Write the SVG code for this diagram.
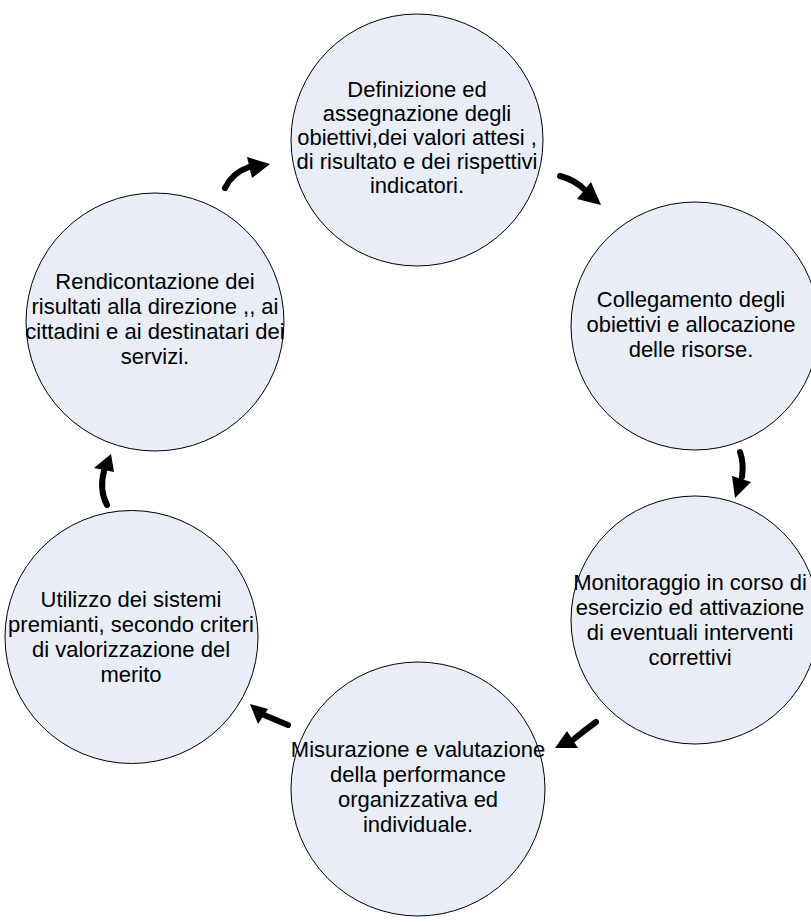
<svg xmlns="http://www.w3.org/2000/svg" width="811" height="922" viewBox="0 0 811 922">
<style>
.node circle{fill:#E8EDF7;stroke:#000;stroke-width:1}
.node text{font-family:"Liberation Sans",Arial,sans-serif;font-size:22px;fill:#000;text-anchor:middle}
.shaft{fill:none;stroke:#000;stroke-width:6;stroke-linecap:round}
.head{fill:#000}
</style>
<rect width="811" height="922" fill="#fff"/>
<g id="n1" class="node">
<circle cx="417" cy="140" r="126"/>
<text><tspan x="417" y="97">Definizione ed</tspan><tspan x="417" y="121">assegnazione degli</tspan><tspan x="417" y="145">obiettivi,dei valori attesi ,</tspan><tspan x="417" y="169">di risultato e dei rispettivi</tspan><tspan x="417" y="193">indicatori.</tspan></text>
</g>
<g id="n2" class="node">
<circle cx="695" cy="326" r="124"/>
<text><tspan x="691" y="307">Collegamento degli</tspan><tspan x="691" y="332">obiettivi e allocazione</tspan><tspan x="691" y="357">delle risorse.</tspan></text>
</g>
<g id="n3" class="node">
<circle cx="695" cy="620" r="124"/>
<text><tspan x="690" y="590">Monitoraggio in corso di</tspan><tspan x="690" y="615">esercizio ed attivazione</tspan><tspan x="690" y="640">di eventuali interventi</tspan><tspan x="690" y="665">correttivi</tspan></text>
</g>
<g id="n4" class="node">
<circle cx="418" cy="789" r="127"/>
<text><tspan x="418" y="757">Misurazione e valutazione</tspan><tspan x="418" y="782">della performance</tspan><tspan x="418" y="807">organizzativa ed</tspan><tspan x="418" y="832">individuale.</tspan></text>
</g>
<g id="n5" class="node">
<circle cx="131.5" cy="637" r="126.5"/>
<text><tspan x="131" y="607">Utilizzo dei sistemi</tspan><tspan x="131" y="632">premianti, secondo criteri</tspan><tspan x="131" y="657">di valorizzazione del</tspan><tspan x="131" y="682">merito</tspan></text>
</g>
<g id="n6" class="node">
<circle cx="155" cy="322" r="129"/>
<text><tspan x="155" y="289">Rendicontazione dei</tspan><tspan x="155" y="314">risultati alla direzione ,, ai</tspan><tspan x="155" y="339">cittadini e ai destinatari dei</tspan><tspan x="155" y="364">servizi.</tspan></text>
</g>
<g id="connectors">
<path class="shaft" d="M225,188 Q232,173 249,167"/>
<polygon class="head" points="270,164 247,157 252,178"/>
<path class="shaft" d="M560,176 Q575,180 585,190"/>
<polygon class="head" points="601,205 591,182 577,199"/>
<path class="shaft" d="M740,452 Q744,463 742,477"/>
<polygon class="head" points="735,498 732,476 751,482"/>
<path class="shaft" d="M596,722 Q585,730 574,739"/>
<polygon class="head" points="555,748 567,731 578,748"/>
<path class="shaft" d="M288,725 L264,715"/>
<polygon class="head" points="250,704 268,709 258,724"/>
<path class="shaft" d="M107,505 Q99,490 104,471"/>
<polygon class="head" points="111,454 94,468 114,472"/>
</g>
</svg>
